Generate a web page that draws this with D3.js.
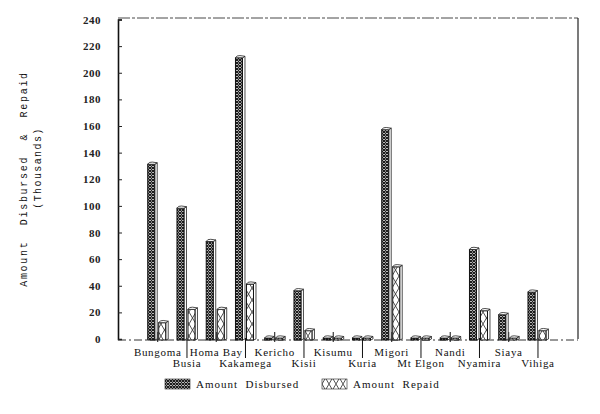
<!DOCTYPE html>
<html>
<head>
<meta charset="utf-8">
<script src="https://cdn.jsdelivr.net/npm/d3@7/dist/d3.min.js"></script>
<style>
  html, body { margin: 0; padding: 0; background: #fff; }
  svg { display: block; }
</style>
</head>
<body>
<svg id="chart" width="600" height="414"></svg>
<script>
const categories = ["Bungoma","Busia","Homa Bay","Kakamega","Kericho","Kisii","Kisumu","Kuria","Migori","Mt Elgon","Nandi","Nyamira","Siaya","Vihiga"];
const disbursed = [132, 99, 74, 212, 0, 37, 0, 0, 158, 0, 0, 68, 19, 36];
const repaid    = [13, 23, 23, 42, 0, 7, 0, 0, 55, 0, 0, 22, 0, 7];
const seriesNames = ["Amount Disbursed", "Amount Repaid"];
const yTicks = [0,20,40,60,80,100,120,140,160,180,200,220,240];

(function(){
const svg = d3.select("#chart");
const defs = svg.append("defs");

const p1 = defs.append("pattern").attr("id","patD").attr("patternUnits","userSpaceOnUse")
  .attr("width",3).attr("height",3);
p1.append("rect").attr("width",3).attr("height",3).attr("fill","#fff");
p1.append("path").attr("d","M0,0L3,3M3,0L0,3").attr("stroke","#111").attr("stroke-width",1.1);
const p2 = defs.append("pattern").attr("id","patR").attr("patternUnits","userSpaceOnUse")
  .attr("width",7).attr("height",12);
p2.append("rect").attr("width",7).attr("height",12).attr("fill","#fff");
p2.append("path").attr("d","M0,0L7,12M7,0L0,12").attr("stroke","#222").attr("stroke-width",0.8);

const pLeft = 118, pRight = 578, pTop = 18, pBottom = 339;
const y = d3.scaleLinear().domain([0,240]).range([339, 19.5]);
const x = d3.scaleBand().domain(categories).range([143.1, 552.6]).padding(0);
const xs = d3.scaleOrdinal().domain(seriesNames).range([-10, 1]);
const barW = 7, sideW = 2.5;

svg.append("line").attr("x1",pLeft).attr("x2",pRight).attr("y1",pTop).attr("y2",pTop)
  .attr("stroke","#333").attr("stroke-width",0.9).attr("stroke-dasharray","12,2,3,2");
svg.append("line").attr("x1",pRight).attr("x2",pRight).attr("y1",pTop).attr("y2",pBottom)
  .attr("stroke","#222").attr("stroke-width",1.2);
svg.append("line").attr("x1",pLeft).attr("x2",pRight).attr("y1",pBottom+1).attr("y2",pBottom+1)
  .attr("stroke","#333").attr("stroke-width",1).attr("stroke-dasharray","8,3,2,3");

const yAxis = d3.axisLeft(y).tickValues(yTicks).tickSize(-4).tickPadding(17);
const gy = svg.append("g").attr("transform",`translate(${pLeft},0)`).call(yAxis);
gy.select(".domain").attr("stroke","#111").attr("stroke-width",1.6);
gy.selectAll(".tick line").attr("stroke","#222");
gy.selectAll(".tick text").attr("font-family","Liberation Serif").attr("font-size",11)
  .attr("font-weight","bold").attr("fill","#222").attr("letter-spacing",0.5);

categories.forEach((c,i) => {
  const cx = x(c) + x.bandwidth()/2;
  if (i % 2 === 1) {
    svg.append("line").attr("x1",cx).attr("x2",cx).attr("y1",pBottom-1).attr("y2",pBottom+19)
      .attr("stroke","#111").attr("stroke-width",1);
  } else {
    svg.append("line").attr("x1",cx).attr("x2",cx).attr("y1",pBottom-7).attr("y2",pBottom+3)
      .attr("stroke","#111").attr("stroke-width",1);
  }
});

const data = [];
categories.forEach((c,i) => {
  data.push({cat:c, s:seriesNames[0], v:disbursed[i]});
  data.push({cat:c, s:seriesNames[1], v:repaid[i]});
});
const g = svg.append("g");
data.forEach(d => {
  const x0 = x(d.cat) + x.bandwidth()/2 + xs(d.s);
  const yt = Math.min(y(d.v), pBottom - 2);
  const fill = d.s === seriesNames[0] ? "url(#patD)" : "url(#patR)";
  g.append("path")
    .attr("d", `M${x0+barW},${yt+1}L${x0+barW+sideW},${yt-0.5}L${x0+barW+sideW},${pBottom}L${x0+barW},${pBottom+1}Z`)
    .attr("fill","#fff").attr("stroke","#222").attr("stroke-width",0.8);
  g.append("rect").attr("x",x0).attr("y",yt+1).attr("width",barW).attr("height",pBottom+1-yt-1)
    .attr("fill",fill).attr("stroke","#111").attr("stroke-width",1);
  g.append("path")
    .attr("d", `M${x0},${yt+1}Q${x0+1},${yt-1.5} ${x0+barW/2+1},${yt-1.2}L${x0+barW+sideW},${yt-0.5}L${x0+barW},${yt+1}Z`)
    .attr("fill","#fff").attr("stroke","#222").attr("stroke-width",0.8);
});

categories.forEach((c,i) => {
  const cx = x(c) + x.bandwidth()/2;
  svg.append("text").attr("x",cx).attr("y", i%2===0 ? 356 : 367)
    .attr("text-anchor","middle").attr("font-family","Liberation Serif").attr("font-size",11)
    .attr("letter-spacing",0.7).attr("fill","#111").text(c);
});

svg.append("text").attr("transform","translate(27,179) rotate(-90)")
  .attr("text-anchor","middle").attr("font-family","Liberation Mono").attr("font-size",10)
  .attr("letter-spacing",1.7).attr("fill","#111").attr("xml:space","preserve").text("Amount  Disbursed  &  Repaid");
svg.append("text").attr("transform","translate(41,168) rotate(-90)")
  .attr("text-anchor","middle").attr("font-family","Liberation Mono").attr("font-size",10)
  .attr("letter-spacing",1.4).attr("fill","#111").text("(Thousands)");

const legendX = [165, 322];
seriesNames.forEach((s,i) => {
  svg.append("rect").attr("x",legendX[i]).attr("y",379).attr("width",25).attr("height",10)
    .attr("fill", i===0 ? "url(#patD)" : "url(#patR)").attr("stroke","#222").attr("stroke-width",0.6);
  svg.append("text").attr("x",legendX[i]+31).attr("y",388).attr("font-family","Liberation Serif")
    .attr("font-size",11).attr("letter-spacing",1).attr("fill","#111").attr("xml:space","preserve")
    .text(s.replace(" ","  "));
});
})();
</script>
</body>
</html>
